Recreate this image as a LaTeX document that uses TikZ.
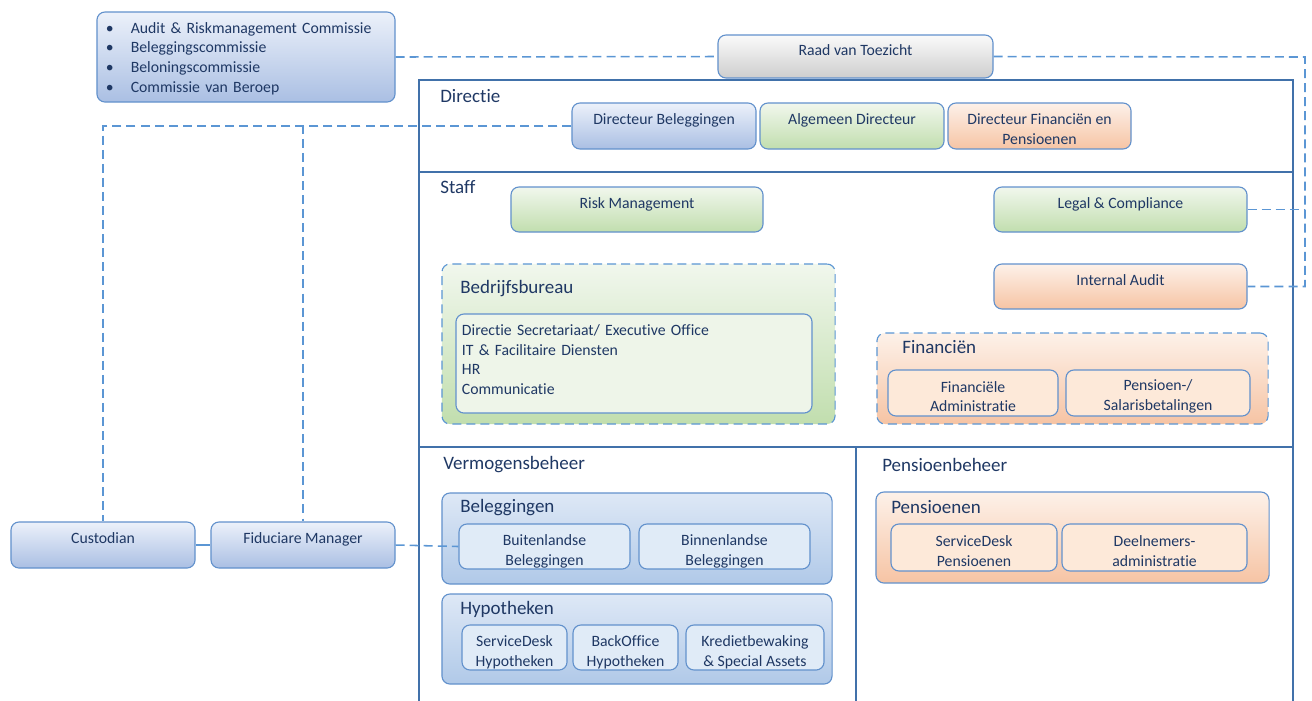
\documentclass[tikz,border=0pt]{standalone}
\usepackage{fontspec}
\setmainfont{Carlito}[Ligatures=NoCommon]
\usetikzlibrary{positioning}

\definecolor{txtnavy}{RGB}{31,56,100}
\definecolor{boxline}{RGB}{98,145,204}
\definecolor{linkblue}{RGB}{91,150,212}
\definecolor{framecol}{RGB}{65,113,170}
\definecolor{blueT}{RGB}{236,241,250}
\definecolor{blueB}{RGB}{170,191,227}
\definecolor{bgrpT}{RGB}{222,232,246}
\definecolor{bgrpB}{RGB}{176,201,232}
\definecolor{blueL}{RGB}{224,235,247}
\definecolor{greenT}{RGB}{241,247,237}
\definecolor{greenB}{RGB}{193,222,174}
\definecolor{greenL}{RGB}{238,245,233}
\definecolor{orangeT}{RGB}{253,241,233}
\definecolor{orangeB}{RGB}{246,196,164}
\definecolor{orangeL}{RGB}{253,233,217}
\definecolor{grayT}{RGB}{250,250,250}
\definecolor{grayB}{RGB}{206,206,206}

\begin{document}
\begin{tikzpicture}[x=0.025cm, y=-0.025cm, font=\fontsize{11.2}{14}\selectfont, text=txtnavy,
	box/.style={draw=boxline, line width=0.8pt, rounded corners=0.2cm, inner sep=0pt, align=center},
	oneline/.style={text height=0.75em, text depth=0.95em},
	twoline/.style={text height=0.92cm},
	bluebox/.style={box, top color=blueT, bottom color=blueB},
	greenbox/.style={box, top color=greenT, bottom color=greenB},
	orangebox/.style={box, top color=orangeT, bottom color=orangeB},
	graybox/.style={box, top color=grayT, bottom color=grayB},
	bluegrp/.style={box, top color=bgrpT, bottom color=bgrpB},
	dashgrp/.style={dash pattern=on 6.4pt off 3.6pt, draw=linkblue},
	blueitem/.style={box, text height=1.02cm, fill=blueL},
	greenitem/.style={box, fill=greenL},
	orangeitem/.style={box, text height=0.95cm, fill=orangeL},
	section/.style={font=\fontsize{13.5}{16}\selectfont, anchor=west, inner sep=0pt},
	dashline/.style={draw=linkblue, line width=1.1pt, dash pattern=on 6.4pt off 3.6pt},
	frame/.style={draw=framecol, line width=0.9pt}]

	\useasboundingbox (0,0) rectangle (1312,700);

	% frame
	\draw[frame] (419,702) -- (419,80) -- (1293,80) -- (1293,702);
	\draw[frame] (419,172) -- (1293,172);
	\draw[frame] (419,447) -- (1293,447);
	\draw[frame] (856,447) -- (856,702);

	\node[section] (lbldir) at (440,96) {Directie};
	\node[section] (lblstaff) at (440,187) {Staff};
	\node[section] (lblvermo) at (443,465) {Vermogensbeheer};
	\node[section] (lblpens) at (882,465) {Pensioenbeheer};

	% top
	\node[bluebox, minimum width=7.45cm, minimum height=2.25cm, text width=7.0cm, align=left, text height=0.35cm] (comm) at (246,57)
		{\makebox[0.62cm][l]{\textbullet}Audit \& Riskmanagement Commissie\\
		 \makebox[0.62cm][l]{\textbullet}Beleggingscommissie\\
		 \makebox[0.62cm][l]{\textbullet}Beloningscommissie\\
		 \makebox[0.62cm][l]{\textbullet}Commissie van Beroep};
	\node[graybox, oneline, minimum width=6.875cm, minimum height=1.075cm] (raad) at (855.5,56.5) {Raad van Toezicht};

	% directie
	\node[bluebox, oneline, minimum width=4.6cm, minimum height=1.15cm] (dirbel) at (664,126) {Directeur Beleggingen};
	\node[greenbox, oneline, minimum width=4.6cm, minimum height=1.15cm] (algdir) at (852,126) {Algemeen Directeur};
	\node[orangebox, twoline, minimum width=4.575cm, minimum height=1.15cm] (dirfin) at (1039.5,126) {Directeur Financiën en\\Pensioenen};

	% staff
	\node[greenbox, oneline, minimum width=6.3cm, minimum height=1.125cm] (risk) at (637,209.5) {Risk Management};
	\node[greenbox, oneline, minimum width=6.325cm, minimum height=1.125cm] (legal) at (1120.5,209.5) {Legal \& Compliance};
	\node[orangebox, oneline, minimum width=6.325cm, minimum height=1.125cm] (audit) at (1120.5,286.5) {Internal Audit};

	\node[greenbox, dashgrp, minimum width=9.825cm, minimum height=4cm] (bedrijf) at (638.5,344) {};
	\node[section] (bbtitle) at (460,289) {Bedrijfsbureau};
	\node[greenitem, minimum width=8.9cm, minimum height=2.475cm, text width=8.6cm, align=left, text depth=1.68cm] (bbinner) at (634,363.5)
		{Directie Secretariaat/ Executive Office\\IT \& Facilitaire Diensten\\HR\\Communicatie};

	\node[orangebox, dashgrp, minimum width=9.775cm, minimum height=2.275cm] (fingrp) at (1072.5,378.5) {};
	\node[section] (fintitle) at (902,347) {Financiën};
	\node[orangeitem, minimum width=4.25cm, minimum height=1.15cm] (finadm) at (973,393) {Financiële\\Administratie};
	\node[orangeitem, minimum width=4.6cm, minimum height=1.15cm] (salaris) at (1158,393) {Pensioen-/\\Salarisbetalingen};

	% vermogensbeheer
	\node[bluegrp, minimum width=9.75cm, minimum height=2.275cm] (beleg) at (637,538.5) {};
	\node[section] (belegtitle) at (460,508) {Beleggingen};
	\node[blueitem, minimum width=4.275cm, minimum height=1.125cm] (buiten) at (544.5,546.5) {Buitenlandse\\Beleggingen};
	\node[blueitem, minimum width=4.275cm, minimum height=1.125cm] (binnen) at (724.5,546.5) {Binnenlandse\\Beleggingen};

	\node[bluegrp, minimum width=9.75cm, minimum height=2.25cm] (hypo) at (637,639) {};
	\node[section] (hypotitle) at (460,609) {Hypotheken};
	\node[blueitem, minimum width=2.625cm, minimum height=1.125cm] (sdhyp) at (514.5,647.5) {ServiceDesk\\Hypotheken};
	\node[blueitem, minimum width=2.625cm, minimum height=1.125cm] (bohyp) at (625.5,647.5) {BackOffice\\Hypotheken};
	\node[blueitem, minimum width=3.45cm, minimum height=1.125cm] (krediet) at (755,647.5) {Kredietbewaking\\\& Special Assets};

	% pensioenbeheer
	\node[orangebox, minimum width=9.825cm, minimum height=2.275cm] (pens) at (1072.5,537.5) {};
	\node[section] (penstitle) at (891,507) {Pensioenen};
	\node[orangeitem, minimum width=4.15cm, minimum height=1.175cm] (sdpens) at (974,547.5) {ServiceDesk\\Pensioenen};
	\node[orangeitem, minimum width=4.625cm, minimum height=1.175cm] (deeln) at (1154.5,547.5) {Deelnemers-\\administratie};

	% extern
	\node[bluebox, oneline, minimum width=4.6cm, minimum height=1.15cm] (cust) at (103,545) {Custodian};
	\node[bluebox, oneline, minimum width=4.6cm, minimum height=1.15cm] (fidu) at (303,545) {Fiduciare Manager};

	% links
	\coordinate (rvtright) at (1305,57);
	\draw[dashline] (comm.east) -- (raad.west);
	\draw[dashline] (raad.east) -- (rvtright) |- (audit.east);
	\draw[dashline] (legal.east) -- (legal.east -| rvtright);
	\draw[dashline] (dirbel.west) -| (cust.north);
	\draw[dashline] (dirbel.west) -| (fidu.north);
	\draw[draw=linkblue, line width=1.1pt] (cust.east) -- (fidu.west);
	\draw[dashline] (fidu.east) -- (buiten.west);
\end{tikzpicture}
\end{document}
